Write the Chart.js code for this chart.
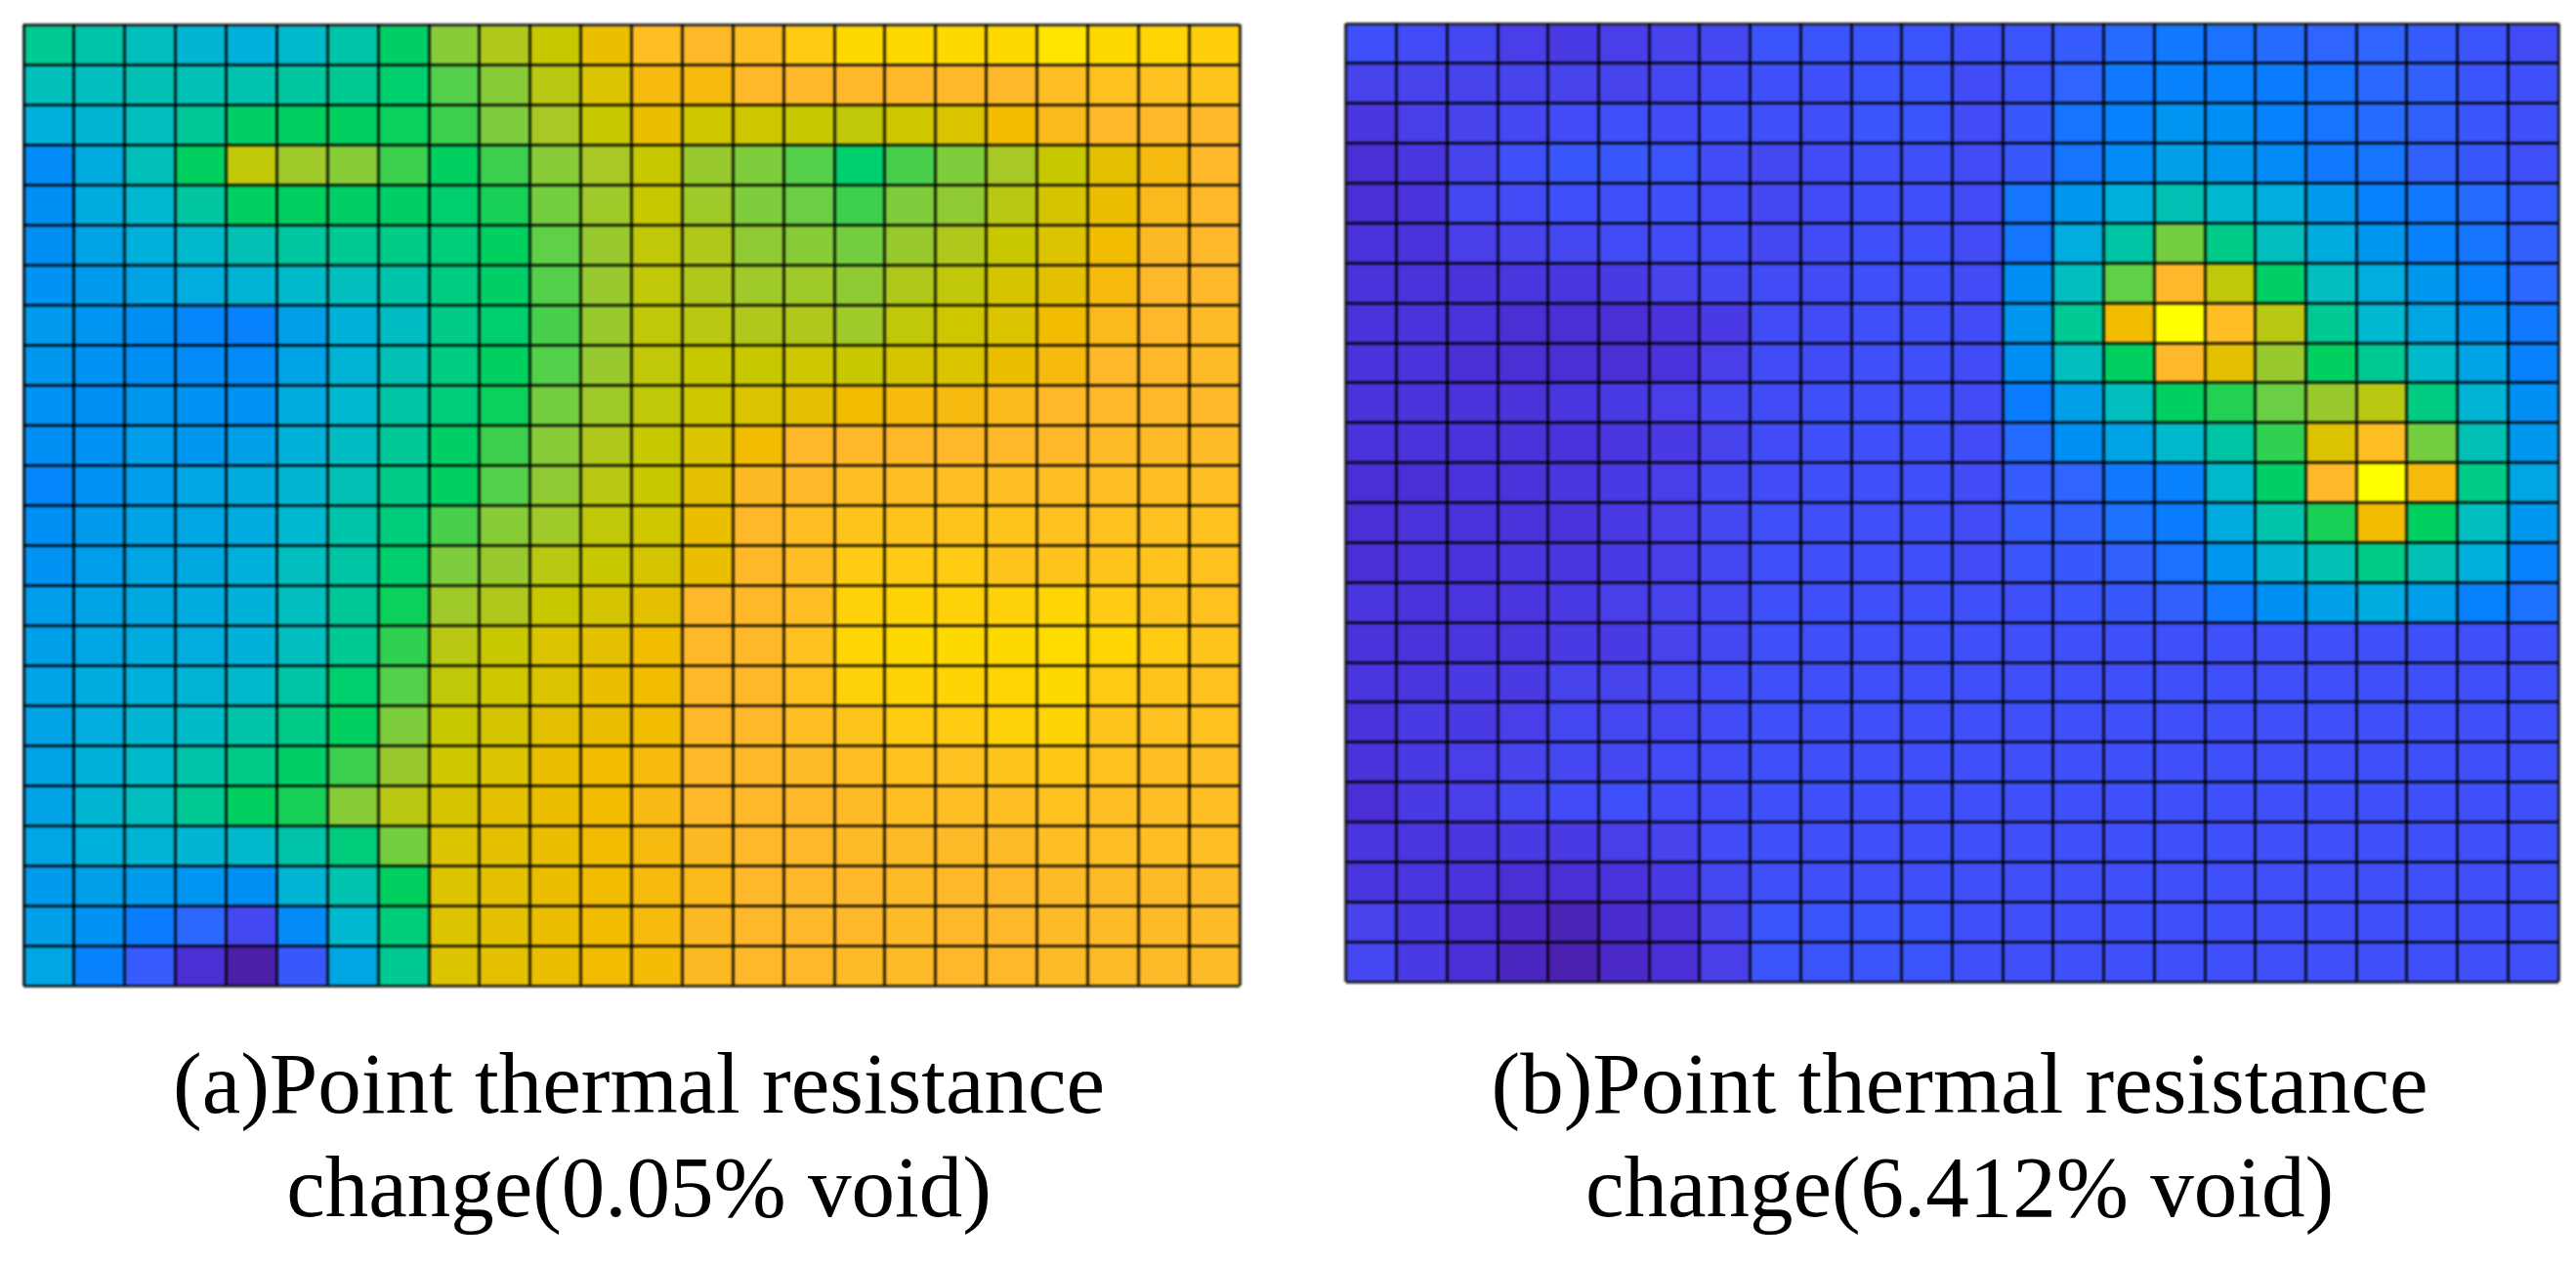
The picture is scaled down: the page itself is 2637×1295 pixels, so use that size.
<!DOCTYPE html>
<html>
<head>
<meta charset="utf-8">
<title>Point thermal resistance change</title>
<script src="https://cdn.jsdelivr.net/npm/chart.js@4/dist/chart.umd.min.js"></script>
<style>
  html, body { margin: 0; padding: 0; background: #fff; }
  body { width: 2637px; height: 1295px; position: relative; overflow: hidden; }
  .panel { position: absolute; top: 0; height: 1030px; }
  #panelA { left: 0; width: 1290px; }
  #panelB { left: 1375px; width: 1262px; }
  .caption {
    position: absolute; top: 1056px;
    font-family: "Liberation Serif", serif; font-size: 89px; line-height: 106px;
    color: #000; text-align: center; white-space: nowrap;
    filter: blur(0.6px);
  }
  #captionA { left: 0; width: 1308px; }
  #captionB { left: 1375px; width: 1262px; }
  /* the source picture is a soft scan */
  canvas { filter: blur(0.8px); }
</style>
</head>
<body>
<div class="panel" id="panelA"><canvas id="chartA"></canvas></div>
<div class="panel" id="panelB"><canvas id="chartB"></canvas></div>
<div class="caption" id="captionA"></div>
<div class="caption" id="captionB"></div>
<script>
// Cell labels for both 24 x 24 grids
const columns = ['1','2','3','4','5','6','7','8','9','10','11','12','13','14','15','16','17','18','19','20','21','22','23','24'];
const rows = ['1','2','3','4','5','6','7','8','9','10','11','12','13','14','15','16','17','18','19','20','21','22','23','24'];

const titleA = ['(a)Point thermal resistance', 'change(0.05% void)'];
const titleB = ['(b)Point thermal resistance', 'change(6.412% void)'];

// Colour level of each cell, top row first (0 = deep violet, 100 = yellow)
const valuesA = [
  [58,54,50,45,42,47,54,65,78,83,86,91,96,95,96,97.5,98.5,98.5,98.5,98.5,99,98.5,98.3,97.8],
  [51,50,52,52,53,56,58,64,73,78,84,89,93,93,95,95,95,95,95,95,96,96.5,96.5,97],
  [42,45,50,57,65,66,66,67,71,77,82,86,91,87,87,86,85,87,89,92,94,95,95,95],
  [29,40,51,66,85,81,78,71,66,71,78,82,86,80,77,73,64,72,77,82,86,90,93,95],
  [30,40,46,56,66,66,65,65,64,68,76,81,86,81,77,75,71,77,79,84,88,91,94,95],
  [30,37,42,47,52,56,58,60,62,66,74,80,85,83,79,78,76,80,83,86,89,92,94.5,95],
  [31,34,37,41,44,47,50,54,61,65,73,80,85,83,81,81,79,83,85,88,90,93,95,95],
  [34,32,30,28,27,36,43,49,60,64,72,80,85,84,83,83,81,85,87,89,92,94,95,95.5],
  [33,31,30,29,29,37,44,52,61,66,73,80,85,86,86,87,86,88,89,91,93,95,95,95.5],
  [31,30,33,31,31,40,46,55,62,67,76,81,85,87,89,90,92,93,93,94,95,95,95,95],
  [30,31,35,33,36,43,49,57,65,71,78,83,86,89,92,95,95,95,95,95,95,95.5,95.5,95.5],
  [28,31,35,38,40,45,52,60,66,73,79,84,86,90,94.5,95,96,96,96,96,96,96,96,96],
  [30,34,37,38,40,46,54,62,72,78,81,85,87,91,95,96,97,97,97,97,96.5,96.5,96.5,96.5],
  [31,35,38,39,42,50,55,64,77,80,84,86,88,91,95,96,97.5,97.5,97.5,97,97,97,97,96.5],
  [35,37,39,40,43,50,57,67,81,83,86,88,90,95,95,96,98,98.2,98,98,98.3,97.5,97,96.5],
  [36,38,40,41,43,50,58,70,84,86,89,90,92,95,95,96.5,98.3,98.5,98.5,98.5,98.6,98.3,97.5,97],
  [37,40,42,44,47,55,64,73,85,87,89,91,92,95,95,96.5,98,98.2,98.2,98.3,98.5,97.5,97,96.5],
  [37,41,45,48,54,60,66,77,86,88,90,91,92,95,95,96,97,97.5,97.5,98,98.2,97,96.5,96.5],
  [37,43,47,54,60,65,71,80,87,89,91,92,93,95,95,95.5,96,96.5,96.5,97,97.3,96.5,96,96],
  [37,45,50,58,66,68,78,84,88,90,91,92,93.5,95,95,95,95.5,96,96,96,96.5,96,96,96],
  [38,42,44,45,47,54,62,76,89,90,91,92,93,94.5,95,95,95.5,95.5,95.5,95.5,96,96,96,96],
  [34,36,34,32,30,44,53,66,89,90,91,92,93,94,95,95,95,95.5,95,95,95.5,95.5,95.5,95.5],
  [36,31,26,20,12,29,46,62,89,90,91,92,93,94.5,95,95,95,95.5,95,95,95.5,95.5,95.5,95.5],
  [38,27,17,6,0,16,38,58,89,90,91,92,92.5,94.5,95,95,95.5,95.5,95,95,95.5,95.5,95.5,95.5]
];

const valuesB = [
  [14,13,12,10,9,10,11,12,15,15,15,15,14,15,17,21,25,23,21,19,19,17,15,13],
  [11,11,11,11,11,11,12,13,14,14,15,15,13,15,19,25,27,27,26,24,20,18,15,14],
  [8,10,11,12,13,14,13,14,14,14,15,15,13,16,24,27,32,30,27,24,21,18,15,14],
  [6,8,11,14,16,16,15,13,12,13,14,14,13,16,24,29,36,33,29,25,24,18,16,14],
  [6,7,12,13,14,14,14,13,12,13,14,14,13,24,33,42,52,46,41,34,27,25,21,17],
  [7,7,10,11,12,13,13,13,12,13,14,14,13,24,41,55,76,60,50,40,33,27,24,18],
  [7,7,7,8,8,9,11,12,13,13,14,14,13,30,50,74,95,85,65,50,41,33,27,20],
  [7,7,7,6,6,6,7,9,13,13,14,14,13,33,58,92,100,96,84,58,46,38,31,25],
  [7,7,6,6,6,6,7,10,13,13,14,14,13,30,50,66,95,90,80,66,58,47,37,27],
  [7,7,7,7,8,9,10,12,13,14,14,14,13,26,36,50,66,69,75,80,84,61,44,30],
  [7,7,7,7,7,8,9,11,13,14,14,14,13,21,30,37,47,55,70,89,96,76,52,33],
  [6,6,7,7,8,9,10,12,13,14,14,14,13,17,19,25,27,47,65,95,100,93,60,38],
  [6,7,7,7,7,9,10,12,14,14,14,14,13,17,18,23,26,40,54,68,92,66,50,33],
  [6,7,7,8,8,9,10,12,14,14,14,14,13,15,16,18,23,33,45,52,60,52,42,27],
  [8,7,8,8,9,10,11,12,14,14,14,14,14,14,15,16,18,25,30,36,40,35,27,23],
  [7,7,8,8,9,9,11,12,14,14,14,14,14,14,14,14,14,14,14,14,14,14,14,14],
  [8,8,9,9,11,11,12,13,14,14,14,14,14,14,14,14,14,14,14,14,14,14,14,14],
  [7,9,9,10,12,12,12,13,14,14,14,14,14,14,14,14,14,14,14,14,14,14,14,14],
  [7,9,10,11,12,12,13,13,14,14,14,14,14,14,14,14,14,14,14,14,14,14,14,14],
  [6,9,10,12,13,14,13,13,14,14,14,14,14,14,14,14,14,14,14,14,14,14,14,14],
  [8,8,8,9,9,10,11,13,14,14,14,14,14,14,14,14,14,14,14,14,14,14,14,14],
  [8,8,7,6,6,7,9,12,14,14,14,14,14,14,14,14,14,14,14,14,14,14,14,14],
  [11,9,6,4,2,5,6,11,15,15,15,15,14,14,14,14,14,14,14,14,14,14,14,14],
  [12,9,6,3,1,4,6,10,15,15,15,15,14,14,14,14,14,14,14,14,14,14,14,14]
];

// Colour map as [level, r, g, b]
const colorStops = [
  [0, 75, 31, 168], [5, 74, 43, 208], [10, 74, 62, 232], [14, 63, 80, 250],
  [20, 44, 104, 255], [26, 10, 124, 255], [30, 0, 144, 245], [36, 0, 160, 232],
  [42, 0, 176, 220], [48, 0, 188, 200], [54, 0, 196, 170], [60, 0, 204, 136],
  [66, 0, 208, 96], [70, 48, 208, 80], [74, 96, 208, 72], [78, 136, 204, 56],
  [82, 168, 200, 37], [86, 200, 200, 0], [89, 220, 196, 0], [92, 242, 188, 0],
  [95, 255, 184, 42], [97, 255, 196, 28], [98.5, 255, 216, 0], [100, 255, 255, 0]
];

function levelColor(v) {
  let i = 1;
  while (i < colorStops.length - 1 && v > colorStops[i][0]) i++;
  const a = colorStops[i - 1], b = colorStops[i];
  const t = (v - a[0]) / (b[0] - a[0]);
  const mix = k => Math.round(a[k] + (b[k] - a[k]) * t);
  return `rgb(${mix(1)},${mix(2)},${mix(3)})`;
}

const lineColor = 'rgba(0,0,0,0.8)';

function drawGrid(id, values, padding) {
  // One floating bar dataset per row, one bar per column
  const datasets = rows.map((row, r) => ({
    label: row,
    data: values[r].map(() => [r, r + 1]),
    backgroundColor: values[r].map(levelColor),
    borderWidth: 0,
    barPercentage: 1,
    categoryPercentage: 1,
    grouped: false
  }));

  new Chart(document.getElementById(id), {
    type: 'bar',
    data: { labels: columns, datasets: datasets },
    options: {
      responsive: true,
      maintainAspectRatio: false,
      animation: false,
      events: [],
      layout: { padding: padding },
      plugins: {
        legend: { display: false },
        tooltip: { enabled: false }
      },
      scales: {
        x: {
          ticks: { display: false, autoSkip: false },
          grid: { color: lineColor, lineWidth: 3, z: 1, drawTicks: false },
          border: { display: false }
        },
        y: {
          min: 0,
          max: rows.length,
          reverse: true,
          ticks: { display: false, stepSize: 1, autoSkip: false },
          grid: { color: lineColor, lineWidth: 3, z: 1, drawTicks: false },
          border: { display: false }
        }
      }
    }
  });
}

// Captions sit off the plot centre in the source, so they are plain text under each chart
document.getElementById('captionA').innerHTML = titleA.join('<br>');
document.getElementById('captionB').innerHTML = titleB.join('<br>');

drawGrid('chartA', valuesA, { left: 24, right: 21, top: 25, bottom: 21 });
drawGrid('chartB', valuesB, { left: 3, right: 18, top: 24, bottom: 25 });
</script>
</body>
</html>
